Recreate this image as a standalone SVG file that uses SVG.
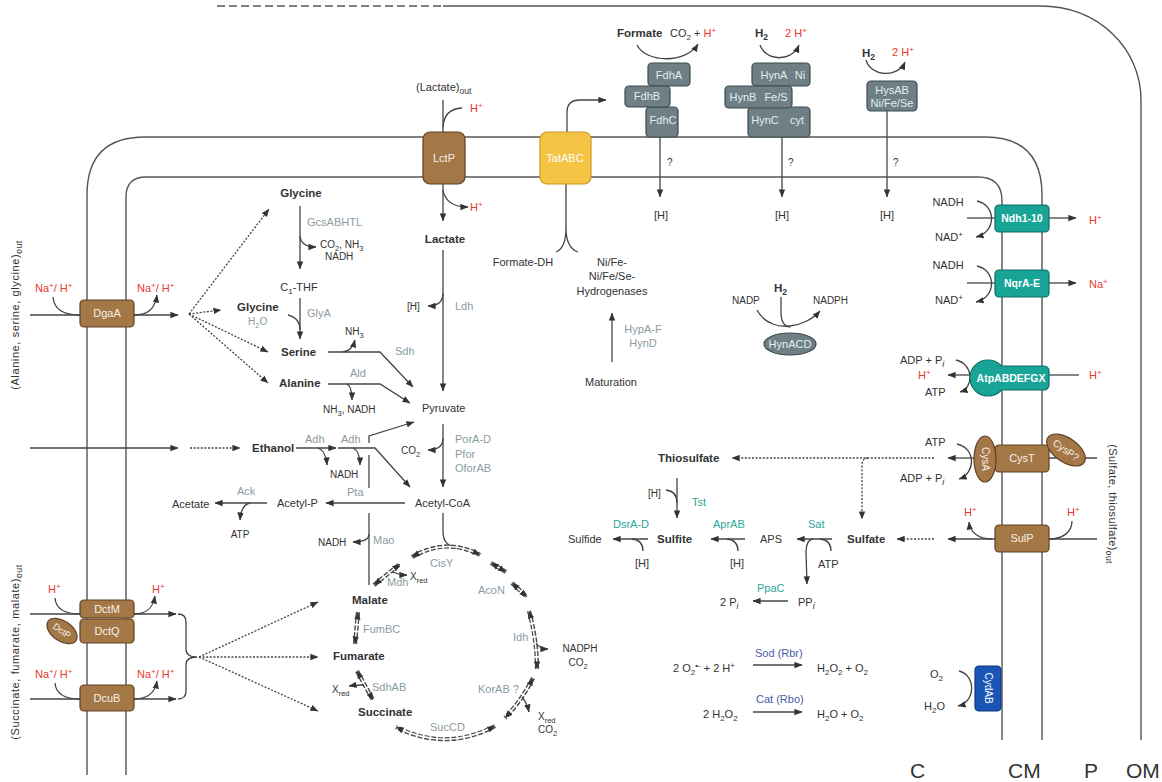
<svg xmlns="http://www.w3.org/2000/svg" width="1162" height="782" viewBox="0 0 1162 782">
<style>
text{font-family:"Liberation Sans",Arial,sans-serif;font-size:11px;fill:#333}
.b{font-weight:bold;font-size:11.5px}
.s{font-size:10px}
.e{fill:#8b9ba3}
.g{fill:#2aa798}
.bl{fill:#4a5aa6}
.r{fill:#e8392d}
.w{fill:#f6f0e6;text-anchor:middle}
.wb{fill:#ffffff;text-anchor:middle;font-weight:bold;font-size:10.5px}
.c{text-anchor:middle}
.ln{fill:none;stroke:#444;stroke-width:1.3}
.a{marker-end:url(#ah)}
.dt{stroke-dasharray:2,1.6}
.mem{fill:none;stroke:#555;stroke-width:1.4}
.br{fill:#a47747;stroke:#5e4225;stroke-width:1.2}
.gr{fill:#6e7f85;stroke:#3d4a4f;stroke-width:1.2}
.tl{fill:#18a597;stroke:#0d6d63;stroke-width:1.2}
.d1{fill:none;stroke:#4a4a4a;stroke-width:4.2;stroke-dasharray:5,1.8}
.d2{fill:none;stroke:#fff;stroke-width:1.5}
.d3{fill:none;stroke:none;marker-start:url(#ah);marker-end:url(#ah)}
.big{font-size:21px;fill:#333}
</style>
<defs>
<marker id="ah" viewBox="0 0 10 8" refX="9.5" refY="4" markerWidth="8" markerHeight="7" markerUnits="userSpaceOnUse" orient="auto-start-reverse"><path d="M0,0L10,4L0,8z" fill="#333"/></marker>
<path id="t1" d="M412,557 Q446,537 480,555"/>
<path id="t2" d="M491,563 L506,572"/>
<path id="t3" d="M512,583 L527,597"/>
<path id="t4" d="M529,611 Q537,640 537,669"/>
<path id="t5" d="M533,678 Q522,700 505,718"/>
<path id="t6" d="M495,726 Q446,752 396,727"/>
<path id="t7" d="M357,671 L373,700"/>
<path id="t8" d="M358,612 L355,644"/>
<path id="t9" d="M374,585 L400,564"/>
</defs>
<rect width="1162" height="782" fill="#fff"/>

<g id="membranes">
<path class="mem" d="M217,6 L443,6" stroke-dasharray="8,4"/>
<path class="mem" d="M443,6 L1040,6 C1100,6 1141,50 1141,100 L1141,740"/>
<path class="mem" d="M87,775 L87,195 Q87,137 145,137 L985,137 Q1042,137 1042,195 L1042,740"/>
<path class="mem" d="M126,775 L126,197 Q126,177 146,177 L978,177 Q1002,177 1002,201 L1002,740"/>
</g>

<g id="connectors">
<!-- lactate -->
<path class="ln" d="M443,100 L443,132"/>
<path class="ln" d="M443,127 Q444,109 462,108"/>
<path class="ln a" d="M443,184 L443,221"/>
<path class="ln a" d="M443,190 Q446,207 468,207"/>
<path class="ln a" d="M443,250 L443,391"/>
<path class="ln a" d="M443,293 Q443,306 428,306"/>
<!-- tat -->
<path class="ln a" d="M567,132 L567,112 Q567,100 580,100 L606,100"/>
<path class="ln" d="M566,184 L566,228 M566,228 Q566,248 556,252 M566,228 Q566,248 578,252"/>
<!-- hydrogenases/fdh -->
<path class="ln a" d="M637,45 C646,63 686,64 698,44"/>
<path class="ln a" d="M660,137 L660,197"/>
<path class="ln a" d="M760,45 C766,62 792,62 799,45"/>
<path class="ln a" d="M782,137 L782,197"/>
<path class="ln a" d="M866,60 C871,77 898,78 905,62"/>
<path class="ln a" d="M887,111 L887,197"/>
<!-- right membrane -->
<path class="ln" d="M967,218 L995,218"/>
<path class="ln a" d="M1049,218 L1076,218"/>
<path class="ln a" d="M977,201 C996,205 997,232 976,237"/>
<path class="ln" d="M967,283 L995,283"/>
<path class="ln a" d="M1049,283 L1076,283"/>
<path class="ln a" d="M977,266 C996,270 997,297 976,302"/>
<path class="ln a" d="M970,375 L948,375"/>
<path class="ln" d="M1049,375 L1079,375"/>
<path class="ln a" d="M956,360 C974,364 974,388 960,392"/>
<path class="ln a" d="M974,458 L948,458"/>
<path class="ln" d="M1049,458 L1097,458"/>
<path class="ln a" d="M957,444 C976,448 976,473 959,479"/>
<path class="ln a dt" d="M934,458 L732,458"/>
<path class="ln a dt" d="M868,458 Q862,458 862,466 L862,519"/>
<path class="ln a" d="M995,539 L948,539"/>
<path class="ln a dt" d="M934,539 L897,539"/>
<path class="ln" d="M1049,539 L1097,539"/>
<path class="ln a" d="M992,539 C978,539 970,532 969,522"/>
<path class="ln" d="M1072,521 C1072,532 1063,539 1049,539"/>
<path class="ln a" d="M959,671 C976,675 976,702 958,706"/>
<!-- left membrane -->
<path class="ln" d="M30,315 L80,315"/>
<path class="ln a" d="M134,315 L178,315"/>
<path class="ln" d="M53,297 C54,310 64,315 80,315"/>
<path class="ln a" d="M134,315 C148,315 155,309 157,295"/>
<path class="ln a dt" d="M189,314 L221,310"/>
<path class="ln a dt" d="M189,314 L268,352"/>
<path class="ln a dt" d="M189,314 L268,383"/>
<path class="ln a dt" d="M189,314 L269,209"/>
<path class="ln a" d="M30,448 L178,448"/>
<path class="ln a dt" d="M190,448 L240,448"/>
<path class="ln" d="M30,614 L80,614"/>
<path class="ln a" d="M134,614 L176,614"/>
<path class="ln" d="M55,598 C56,610 66,614 80,614"/>
<path class="ln a" d="M134,614 C147,614 153,608 155,596"/>
<path class="ln" d="M30,699 L80,699"/>
<path class="ln a" d="M134,699 L176,699"/>
<path class="ln" d="M55,683 C56,695 66,699 80,699"/>
<path class="ln a" d="M134,699 C147,699 155,693 157,681"/>
<path class="ln" d="M178,614 Q186,614 186,622 L186,649 Q186,657 197,657 Q186,657 186,665 L186,691 Q186,699 178,699"/>
<path class="ln a dt" d="M199,657 L318,602"/>
<path class="ln a dt" d="M199,657 L318,657"/>
<path class="ln a dt" d="M199,657 L318,711"/>
<!-- amino acids -->
<path class="ln a" d="M300,206 L300,269"/>
<path class="ln a" d="M300,236 Q301,247 316,247"/>
<path class="ln a" d="M300,298 L300,339"/>
<path class="ln" d="M288,315 C296,317 300,322 300,330"/>
<path class="ln a" d="M328,352 L380,352 L413,387"/>
<path class="ln a" d="M343,352 Q352,351 355,340"/>
<path class="ln a" d="M328,384 L380,384 L410,403"/>
<path class="ln a" d="M347,384 Q352,387 352,400"/>
<path class="ln a" d="M443,424 L443,487"/>
<path class="ln a" d="M443,438 Q443,450 428,450"/>
<path class="ln a" d="M296,448 L336,448"/>
<path class="ln a" d="M318,448 Q326,451 327,465"/>
<path class="ln a" d="M338,448 L375,448 L410,487"/>
<path class="ln a" d="M353,448 Q360,451 360,465"/>
<path class="ln a" d="M369,443 L369,436 L414,422"/>
<path class="ln" d="M369,455 L369,488"/>
<path class="ln a" d="M405,503 L326,503"/>
<path class="ln a" d="M267,503 L215,503"/>
<path class="ln a" d="M250,503 Q241,505 240,520"/>
<path class="ln" d="M369,513 L369,585"/>
<path class="ln a" d="M369,534 Q369,542 353,542"/>
<path class="ln" d="M443,513 L443,532 Q443,546 458,548"/>
<!-- TCA -->
<use href="#t1" class="d1"/><use href="#t1" class="d2"/><use href="#t1" class="d3"/>
<use href="#t2" class="d1"/><use href="#t2" class="d2"/><use href="#t2" class="d3"/>
<use href="#t3" class="d1"/><use href="#t3" class="d2"/><use href="#t3" class="d3"/>
<use href="#t4" class="d1"/><use href="#t4" class="d2"/><use href="#t4" class="d3"/>
<use href="#t5" class="d1"/><use href="#t5" class="d2"/><use href="#t5" class="d3"/>
<use href="#t6" class="d1"/><use href="#t6" class="d2"/><use href="#t6" class="d3"/>
<use href="#t7" class="d1"/><use href="#t7" class="d2"/><use href="#t7" class="d3"/>
<use href="#t8" class="d1"/><use href="#t8" class="d2"/><use href="#t8" class="d3"/>
<use href="#t9" class="d1"/><use href="#t9" class="d2"/><use href="#t9" class="d3"/>
<path class="ln a" d="M536,643 Q540,649 548,649"/>
<path class="ln a" d="M522,697 Q527,703 529,712"/>
<path class="ln a" d="M364,685 Q356,685 349,686"/>
<path class="ln a" d="M392,572 Q400,575 407,575"/>
<!-- HynACD / maturation -->
<path class="ln a" d="M757,310 C765,325 780,327 790,326 C800,325 812,320 820,311"/>
<path class="ln" d="M781,297 L781,312 Q781,326 790,327"/>
<path class="ln a" d="M612,362 L612,313"/>
<!-- sulfur -->
<path class="ln a" d="M677,478 L677,518"/>
<path class="ln" d="M666,490 Q677,491 677,503"/>
<path class="ln a" d="M648,539 L613,539"/>
<path class="ln" d="M643,551 Q643,540 632,539"/>
<path class="ln a" d="M745,539 L711,539"/>
<path class="ln" d="M738,551 Q738,540 727,539"/>
<path class="ln a" d="M832,539 L797,539"/>
<path class="ln" d="M831,551 Q831,540 820,539"/>
<path class="ln a" d="M813,539 Q806,540 806,552 L807,584"/>
<path class="ln a" d="M788,601 L753,601"/>
<path class="ln a" d="M753,665 L802,665"/>
<path class="ln a" d="M753,712 L802,712"/>
</g>

<g id="LctP"><rect class="br" x="423" y="132" width="42" height="52" rx="7"/><text class="w" x="444" y="162">LctP</text></g>
<g id="TatABC"><rect x="540" y="132" width="51" height="52" rx="7" fill="#f5c445" stroke="#c8991f" stroke-width="1.2"/><text x="565" y="162" class="c" style="fill:#fff">TatABC</text></g>
<g id="Fdh">
<rect class="gr" x="648" y="63" width="42" height="23" rx="4"/><text class="w" x="669" y="79" style="fill:#e6ecee">FdhA</text>
<rect class="gr" x="646" y="107" width="32" height="30" rx="4"/><text class="w" x="663" y="124" style="fill:#e6ecee">FdhC</text>
<rect class="gr" x="625" y="86" width="45" height="21" rx="4"/><text class="w" x="647" y="100" style="fill:#e6ecee">FdhB</text>
</g>
<g id="Hyn">
<rect class="gr" x="752" y="63" width="58" height="23" rx="4"/><text class="w" x="774" y="79" style="fill:#e6ecee">HynA</text><text class="w" x="800" y="79" style="fill:#e6ecee">Ni</text>
<rect class="gr" x="748" y="107" width="62" height="30" rx="4"/><text class="w" x="765" y="124" style="fill:#e6ecee">HynC</text><text class="w" x="797" y="124" style="fill:#e6ecee">cyt</text>
<rect class="gr" x="725" y="86" width="67" height="22" rx="4"/><text class="w" x="743" y="101" style="fill:#e6ecee">HynB</text><text class="w" x="776" y="101" style="fill:#e6ecee">Fe/S</text>
</g>
<g id="HysAB"><rect class="gr" x="867" y="81" width="50" height="30" rx="4"/><text class="w" x="892" y="94" style="fill:#e6ecee">HysAB</text><text class="w" x="892" y="107" style="fill:#e6ecee">Ni/Fe/Se</text></g>
<g id="HynACD"><ellipse class="gr" cx="790" cy="344" rx="26" ry="11"/><text class="w" x="790" y="348" style="fill:#e6ecee">HynACD</text></g>
<g id="Ndh"><rect class="tl" x="995" y="205" width="54" height="27" rx="4"/><text class="wb" x="1022" y="222">Ndh1-10</text></g>
<g id="Nqr"><rect class="tl" x="995" y="270" width="54" height="27" rx="4"/><text class="wb" x="1022" y="287">NqrA-E</text></g>
<g id="Atp">
<circle class="tl" cx="988" cy="378" r="18"/><rect class="tl" x="982" y="366" width="67" height="24" rx="5"/>
<circle cx="988" cy="378" r="17.4" fill="#18a597"/><rect x="984" y="366.6" width="20" height="22.8" fill="#18a597"/>
<text class="wb" x="1011" y="382">AtpABDEFGX</text></g>
<g id="CysT"><rect class="br" x="995" y="445" width="54" height="27" rx="4"/><text class="w" x="1022" y="462">CysT</text></g>
<g id="CysA"><ellipse class="br" cx="985" cy="459" rx="11" ry="23"/><text class="w s" transform="translate(985,459) rotate(90)" y="3.5">CysA</text></g>
<g id="CysP"><ellipse class="br" cx="1066" cy="450" rx="22" ry="12" transform="rotate(35 1066 450)"/><text class="w s" transform="translate(1066,450) rotate(35)" y="3.5">CysP?</text></g>
<g id="SulP"><rect class="br" x="995" y="525" width="54" height="27" rx="4"/><text class="w" x="1022" y="542">SulP</text></g>
<g id="CydAB"><rect x="975" y="666" width="26" height="45" rx="4" fill="#1b55b6" stroke="#0e3a80" stroke-width="1.2"/><text class="w s" style="fill:#fff" transform="translate(988,688) rotate(90)" y="3.5">CydAB</text></g>
<g id="DgaA"><rect class="br" x="80" y="300" width="54" height="27" rx="4"/><text class="w" x="107" y="317">DgaA</text></g>
<g id="DctM"><rect class="br" x="80" y="600" width="54" height="18" rx="4"/><text class="w" x="107" y="613">DctM</text></g>
<g id="DctQ"><rect class="br" x="80" y="619" width="54" height="24" rx="4"/><text class="w" x="107" y="635">DctQ</text></g>
<g id="DctP"><ellipse class="br" cx="62" cy="631" rx="17" ry="10" transform="rotate(35 62 631)"/><text class="w" style="font-size:9px" transform="translate(62,631) rotate(35)" y="3">DctP</text></g>
<g id="DcuB"><rect class="br" x="80" y="685" width="54" height="26" rx="4"/><text class="w" x="107" y="702">DcuB</text></g>

<g id="labels">
<text x="416" y="91">(Lactate)<tspan dy="3" font-size="8.5">out</tspan></text>
<text class="r" x="470" y="112">H<tspan dy="-4" font-size="8">+</tspan></text>
<text class="r" x="470" y="211">H<tspan dy="-4" font-size="8">+</tspan></text>
<text class="b c" x="445" y="243">Lactate</text>
<text class="s" x="407" y="310">[H]</text>
<text class="e" x="455" y="310">Ldh</text>
<text class="c" x="523" y="266">Formate-DH</text>
<text class="c" x="612" y="266">Ni/Fe-</text>
<text class="c" x="612" y="280">Ni/Fe/Se-</text>
<text class="c" x="612" y="295">Hydrogenases</text>
<text class="b" x="617" y="37">Formate</text>
<text x="670" y="37">CO<tspan dy="3" font-size="8">2</tspan><tspan dy="-3"> + </tspan><tspan class="r">H</tspan><tspan class="r" dy="-4" font-size="8">+</tspan></text>
<text class="b" x="755" y="37">H<tspan dy="3" font-size="8.5">2</tspan></text>
<text class="r" x="785" y="37">2 H<tspan dy="-4" font-size="8">+</tspan></text>
<text class="b" x="862" y="57">H<tspan dy="3" font-size="8.5">2</tspan></text>
<text class="r" x="892" y="56">2 H<tspan dy="-4" font-size="8">+</tspan></text>
<text class="s" x="667" y="166">?</text>
<text class="s" x="788" y="166">?</text>
<text class="s" x="893" y="166">?</text>
<text class="c" x="661" y="219">[H]</text>
<text class="c" x="782" y="219">[H]</text>
<text class="c" x="887" y="219">[H]</text>
<text class="c" x="948" y="206">NADH</text>
<text x="935" y="241">NAD<tspan dy="-4" font-size="8">+</tspan></text>
<text class="r" x="1089" y="224">H<tspan dy="-4" font-size="8">+</tspan></text>
<text class="c" x="948" y="269">NADH</text>
<text x="935" y="304">NAD<tspan dy="-4" font-size="8">+</tspan></text>
<text class="r" x="1089" y="288">Na<tspan dy="-4" font-size="8">+</tspan></text>
<text x="900" y="364">ADP + P<tspan dy="3" font-size="9" font-style="italic">i</tspan></text>
<text class="r" x="918" y="379">H<tspan dy="-4" font-size="8">+</tspan></text>
<text x="925" y="396">ATP</text>
<text class="r" x="1089" y="379">H<tspan dy="-4" font-size="8">+</tspan></text>
<text x="925" y="446">ATP</text>
<text x="900" y="482">ADP + P<tspan dy="3" font-size="9" font-style="italic">i</tspan></text>
<text class="r" x="964" y="516">H<tspan dy="-4" font-size="8">+</tspan></text>
<text class="r" x="1067" y="516">H<tspan dy="-4" font-size="8">+</tspan></text>
<text x="930" y="678">O<tspan dy="3" font-size="8">2</tspan></text>
<text x="924" y="710">H<tspan dy="3" font-size="8">2</tspan><tspan dy="-3">O</tspan></text>
<text class="r" x="35" y="292">Na<tspan dy="-4" font-size="8">+</tspan><tspan dy="4">/ H</tspan><tspan dy="-4" font-size="8">+</tspan></text>
<text class="r" x="137" y="292">Na<tspan dy="-4" font-size="8">+</tspan><tspan dy="4">/ H</tspan><tspan dy="-4" font-size="8">+</tspan></text>
<text class="r" x="48" y="593">H<tspan dy="-4" font-size="8">+</tspan></text>
<text class="r" x="152" y="593">H<tspan dy="-4" font-size="8">+</tspan></text>
<text class="r" x="35" y="678">Na<tspan dy="-4" font-size="8">+</tspan><tspan dy="4">/ H</tspan><tspan dy="-4" font-size="8">+</tspan></text>
<text class="r" x="137" y="678">Na<tspan dy="-4" font-size="8">+</tspan><tspan dy="4">/ H</tspan><tspan dy="-4" font-size="8">+</tspan></text>
<text class="c" style="letter-spacing:.6px" transform="translate(19,315) rotate(-90)">(Alanine, serine, glycine)<tspan dy="3" font-size="8.5">out</tspan></text>
<text class="c" style="letter-spacing:.6px" transform="translate(19,652) rotate(-90)">(Succinate, fumarate, malate)<tspan dy="3" font-size="8.5">out</tspan></text>
<text class="c" style="letter-spacing:.4px" transform="translate(1109,504) rotate(90)">(Sulfate, thiosulfate)<tspan dy="3" font-size="8.5">out</tspan></text>
</g>

<g id="aminoacids">
<text class="b c" x="301" y="197">Glycine</text>
<text class="e" x="307" y="226">GcsABHTL</text>
<text class="s" x="320" y="248">CO<tspan dy="2.5" font-size="7.5">2</tspan><tspan dy="-2.5">, NH</tspan><tspan dy="2.5" font-size="7.5">3</tspan></text>
<text class="s" x="325" y="260">NADH</text>
<text class="c" x="299" y="291">C<tspan dy="3" font-size="8">1</tspan><tspan dy="-3">-THF</tspan></text>
<text class="e" x="307" y="317">GlyA</text>
<text class="b" x="237" y="311">Glycine</text>
<text class="s e" x="248" y="325">H<tspan dy="2.5" font-size="7.5">2</tspan><tspan dy="-2.5">O</tspan></text>
<text class="b" x="281" y="356">Serine</text>
<text class="s" x="345" y="335">NH<tspan dy="2.5" font-size="7.5">3</tspan></text>
<text class="e" x="395" y="355">Sdh</text>
<text class="b" x="279" y="387">Alanine</text>
<text class="e" x="350" y="377">Ald</text>
<text class="s" x="323" y="413">NH<tspan dy="2.5" font-size="7.5">3</tspan><tspan dy="-2.5">, NADH</tspan></text>
<text x="422" y="412">Pyruvate</text>
<text class="s" x="401" y="454">CO<tspan dy="2.5" font-size="7.5">2</tspan></text>
<text class="e" x="455" y="443">PorA-D</text>
<text class="e" x="455" y="458">Pfor</text>
<text class="e" x="455" y="472">OforAB</text>
<text class="b" x="252" y="452">Ethanol</text>
<text class="e" x="305" y="443">Adh</text>
<text class="e" x="341" y="443">Adh</text>
<text class="s" x="330" y="478">NADH</text>
<text class="e" x="347" y="496">Pta</text>
<text x="415" y="507">Acetyl-CoA</text>
<text x="277" y="507">Acetyl-P</text>
<text class="e" x="237" y="495">Ack</text>
<text x="172" y="508">Acetate</text>
<text class="s c" x="240" y="538">ATP</text>
<text class="s" x="318" y="546">NADH</text>
<text class="e" x="373" y="544">Mao</text>
</g>

<g id="tca">
<text class="e" x="430" y="567">CisY</text>
<text class="e" x="387" y="586">Mdh</text>
<text class="s" x="410" y="580">X<tspan dy="2.5" font-size="7.5">red</tspan></text>
<text class="e" x="478" y="594">AcoN</text>
<text class="b" x="352" y="604">Malate</text>
<text class="e" x="363" y="633">FumBC</text>
<text class="e" x="513" y="641">Idh</text>
<text class="s c" x="580" y="652">NADPH</text>
<text class="s c" x="578" y="666">CO<tspan dy="2.5" font-size="7.5">2</tspan></text>
<text class="b" x="333" y="660">Fumarate</text>
<text class="e" x="372" y="691">SdhAB</text>
<text class="s" x="332" y="693">X<tspan dy="2.5" font-size="7.5">red</tspan></text>
<text class="e" x="478" y="693">KorAB ?</text>
<text class="b" x="358" y="716">Succinate</text>
<text class="s" x="538" y="720">X<tspan dy="2.5" font-size="7.5">red</tspan></text>
<text class="s" x="538" y="733">CO<tspan dy="2.5" font-size="7.5">2</tspan></text>
<text class="e" x="430" y="731">SucCD</text>
</g>

<g id="hydrogenase-misc">
<text class="b" x="774" y="292">H<tspan dy="3" font-size="8.5">2</tspan></text>
<text class="s" x="732" y="304">NADP</text>
<text class="s" x="813" y="304">NADPH</text>
<text x="585" y="386">Maturation</text>
<text class="e c" x="643" y="333">HypA-F</text>
<text class="e c" x="643" y="347">HynD</text>
</g>

<g id="sulfur">
<text class="b" x="658" y="462">Thiosulfate</text>
<text class="s" x="648" y="497">[H]</text>
<text class="g" x="692" y="506">Tst</text>
<text class="g" x="613" y="528">DsrA-D</text>
<text x="568" y="543">Sulfide</text>
<text class="b" x="657" y="543">Sulfite</text>
<text x="635" y="567">[H]</text>
<text class="g" x="713" y="528">AprAB</text>
<text x="760" y="543">APS</text>
<text x="730" y="567">[H]</text>
<text class="g" x="808" y="528">Sat</text>
<text x="818" y="568">ATP</text>
<text class="b" x="847" y="543">Sulfate</text>
<text class="g" x="757" y="592">PpaC</text>
<text x="798" y="606">PP<tspan dy="3" font-size="9" font-style="italic">i</tspan></text>
<text x="720" y="606">2 P<tspan dy="3" font-size="9" font-style="italic">i</tspan></text>
</g>

<g id="ros">
<text x="673" y="672">2 O<tspan dy="3" font-size="8">2</tspan><tspan dy="-7" font-size="8">•-</tspan><tspan dy="4"> + 2 H</tspan><tspan dy="-4" font-size="8">+</tspan></text>
<text class="bl" x="755" y="657">Sod (Rbr)</text>
<text x="817" y="672">H<tspan dy="3" font-size="8">2</tspan><tspan dy="-3">O</tspan><tspan dy="3" font-size="8">2</tspan><tspan dy="-3"> + O</tspan><tspan dy="3" font-size="8">2</tspan></text>
<text x="703" y="718">2 H<tspan dy="3" font-size="8">2</tspan><tspan dy="-3">O</tspan><tspan dy="3" font-size="8">2</tspan></text>
<text class="bl" x="756" y="703">Cat (Rbo)</text>
<text x="817" y="718">H<tspan dy="3" font-size="8">2</tspan><tspan dy="-3">O + O</tspan><tspan dy="3" font-size="8">2</tspan></text>
</g>

<g id="compartments">
<text class="big" x="910" y="778">C</text>
<text class="big" x="1008" y="778">CM</text>
<text class="big" x="1084" y="778">P</text>
<text class="big" x="1126" y="778">OM</text>
</g>
</svg>
